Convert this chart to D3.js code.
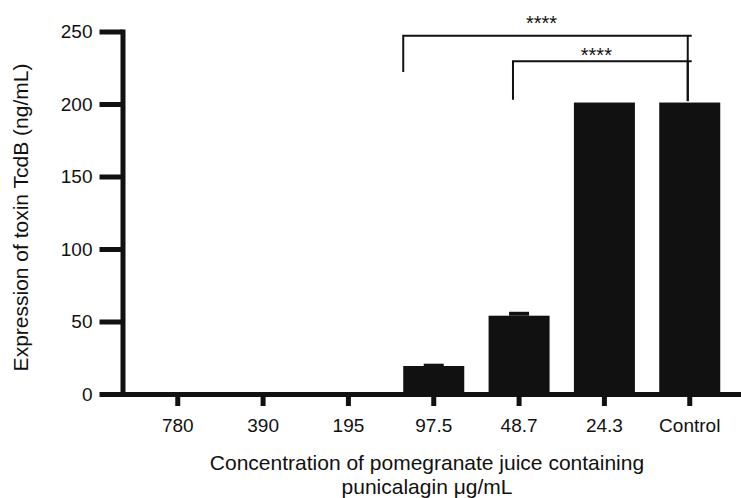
<!DOCTYPE html>
<html>
<head>
<meta charset="utf-8">
<script src="https://cdn.jsdelivr.net/npm/d3@7"></script>
<style>
  body { margin: 0; background: #fff; }
  text { font-family: "Liberation Sans", Arial, sans-serif; fill: #111; }
</style>
</head>
<body>
<svg id="chart" width="741" height="498"></svg>
<script>
// data
const categories = ['780', '390', '195', '97.5', '48.7', '24.3', 'Control'];
const means = [0, 0, 0, 19.3, 54, 201, 201];
const errors = [0, 0, 0, 1.6, 2.7, 0, 0];
const yTicks = [0, 50, 100, 150, 200, 250];

// significance brackets: bar level, leg ends and star level in data units
const brackets = [
  {from: '97.5', to: 'Control', level: 247, leftEnd: 222, rightEnd: 202, starLevel: 258, label: '****'},
  {from: '48.7', to: 'Control', level: 229.5, leftEnd: 203, rightEnd: 202, starLevel: 236, label: '****'}
];

const svg = d3.select('#chart');
const ink = '#111';

const x = d3.scaleBand()
  .domain(categories)
  .range([122.5, 745])
  .paddingInner(0.285)
  .paddingOuter(0.29);

const y = d3.scaleLinear()
  .domain([0, 250])
  .range([394, 31.5]);

// bars
svg.append('g').selectAll('rect')
  .data(categories)
  .join('rect')
  .attr('x', d => x(d))
  .attr('width', x.bandwidth())
  .attr('y', (d, i) => y(means[i]))
  .attr('height', (d, i) => y(0) - y(means[i]))
  .attr('fill', ink);

// error bars (thick caps)
svg.append('g').selectAll('rect')
  .data(categories.filter((d, i) => errors[i] > 0))
  .join('rect')
  .attr('x', d => x(d) + x.bandwidth() / 2 - 10)
  .attr('width', 20)
  .attr('y', d => y(means[categories.indexOf(d)] + errors[categories.indexOf(d)]))
  .attr('height', d => {
    const i = categories.indexOf(d);
    return y(means[i]) - y(means[i] + errors[i]);
  })
  .attr('fill', ink);

// y axis
const yAxis = d3.axisLeft(y)
  .tickValues(yTicks)
  .tickSize(23)
  .tickSizeOuter(0)
  .tickPadding(7);

const gy = svg.append('g')
  .attr('transform', 'translate(122.5,0)')
  .call(yAxis);
gy.select('.domain').attr('stroke', ink).attr('stroke-width', 5).attr('stroke-linecap', 'square');
gy.selectAll('.tick line').attr('stroke', ink).attr('stroke-width', 5);
gy.selectAll('.tick text')
  .style('font-size', '19px')
  .style('font-family', '"Liberation Sans", Arial, sans-serif')
  .attr('fill', ink);

// x axis
const xAxis = d3.axisBottom(x)
  .tickSize(12)
  .tickSizeOuter(0)
  .tickPadding(13);

const gx = svg.append('g')
  .attr('transform', `translate(0,${y(0)})`)
  .call(xAxis);
gx.select('.domain').attr('stroke', ink).attr('stroke-width', 5);
gx.selectAll('.tick line').attr('stroke', ink).attr('stroke-width', 5);
gx.selectAll('.tick text')
  .style('font-size', '19px')
  .style('font-family', '"Liberation Sans", Arial, sans-serif')
  .attr('fill', ink);

// brackets
const gb = svg.append('g')
  .attr('fill', 'none')
  .attr('stroke', ink)
  .attr('stroke-width', 2);

brackets.forEach((b, k) => {
  // outer bracket starts at the bar's left edge, inner one near the bar centre
  const x0 = k === 0 ? x(b.from) : x(b.from) + x.bandwidth() * 0.4;
  const x1 = x(b.to) + x.bandwidth() / 2 - 2;
  gb.append('path')
    .attr('d', `M${x0},${y(b.leftEnd)}V${y(b.level)}H${x1 + 4}`);
  gb.append('path')
    .attr('d', `M${x1},${y(b.level)}V${y(b.rightEnd)}`);
  svg.append('text')
    .attr('x', (x0 + x1) / 2 - 4)
    .attr('y', y(b.starLevel) + 10)
    .attr('text-anchor', 'middle')
    .style('font-size', '20px')
    .text(b.label);
});

// axis titles
svg.append('text')
  .attr('transform', 'translate(28,217.5) rotate(-90)')
  .attr('text-anchor', 'middle')
  .style('font-size', '21px')
  .text('Expression of toxin TcdB (ng/mL)');

svg.append('text')
  .attr('x', 427)
  .attr('y', 470)
  .attr('text-anchor', 'middle')
  .style('font-size', '21px')
  .text('Concentration of pomegranate juice containing');

svg.append('text')
  .attr('x', 427)
  .attr('y', 494)
  .attr('text-anchor', 'middle')
  .style('font-size', '21px')
  .text('punicalagin μg/mL');
</script>
</body>
</html>
